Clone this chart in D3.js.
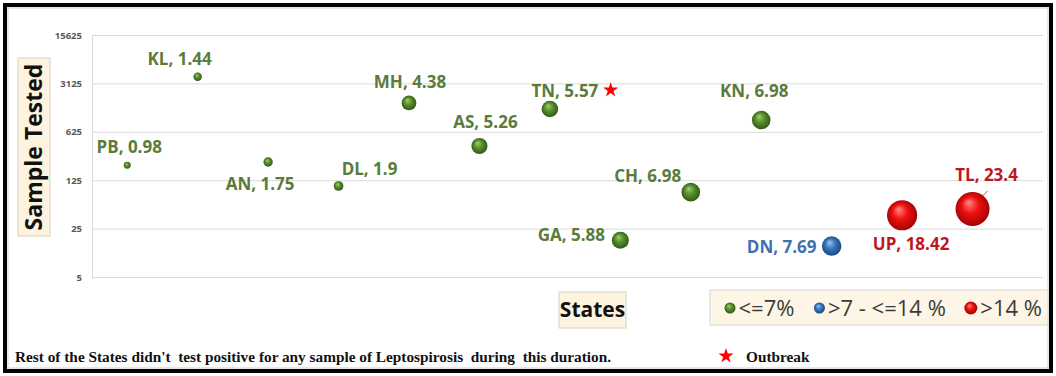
<!DOCTYPE html>
<html>
<head>
<meta charset="utf-8">
<script src="https://cdn.jsdelivr.net/npm/d3@7"></script>
<style>
  html, body { margin: 0; padding: 0; background: #fff; }
  svg { display: block; }
</style>
</head>
<body>
<div class="vis-bubble"></div>
<script>
// data
const states = ['PB','KL','AN','DL','MH','AS','TN','GA','CH','KN','DN','UP','TL'];
const samplesTested = [205, 3900, 229, 103, 1630, 390, 1334, 17, 84, 926, 14, 39, 48];
const positivity = [0.98, 1.44, 1.75, 1.9, 4.38, 5.26, 5.57, 5.88, 6.98, 6.98, 7.69, 18.42, 23.4];
const outbreakStates = ['TN'];
const yTicks = [5, 25, 125, 625, 3125, 15625];
const legendLabels = ['<=7%', '>7 - <=14 %', '>14 %'];
const footnote = "Rest of the States didn't  test positive for any sample of Leptospirosis  during  this duration.";

// label offsets (px) relative to the bubble centre, the way they were dragged in the original
const labelOffset = {
  PB: [2, -12], KL: [-18, -12], AN: [-8, 28], DL: [31, -11], MH: [1, -15],
  AS: [6, -18], TN: [15, -12], GA: [-49, 1], CH: [-43, -10], KN: [-7, -23],
  DN: [-50, 7], UP: [9, 35], TL: [14, -28]
};

const width = 1056, height = 376;
const svg = d3.select('.vis-bubble').append('svg')
  .attr('width', width).attr('height', height);

const defs = svg.append('defs');
const palette = [
  { id: 'g', light: '#9fcf72', mid: '#58902c', dark: '#2c5214', text: '#5b7b3a' },
  { id: 'b', light: '#9cc8f0', mid: '#3a78c0', dark: '#174079', text: '#3e70b2' },
  { id: 'r', light: '#ff8a80', mid: '#ee1111', dark: '#9c0000', text: '#c0161c' }
];
palette.forEach(p => {
  const gr = defs.append('radialGradient').attr('id', 'ball-' + p.id)
    .attr('cx', '50%').attr('cy', '50%').attr('r', '55%')
    .attr('fx', '38%').attr('fy', '30%');
  gr.append('stop').attr('offset', '0%').attr('stop-color', p.light);
  gr.append('stop').attr('offset', '45%').attr('stop-color', p.mid);
  gr.append('stop').attr('offset', '100%').attr('stop-color', p.dark);
});
const colorBin = d3.scaleThreshold().domain([7, 14]).range(palette);

// scales
const x = d3.scaleLinear().domain([0.5, 14]).range([92, 1043]);
const y = d3.scaleLog().base(5).domain([5, 15625]).range([277, 35]);
const r = d3.scaleSqrt().domain([0, 23.4]).range([0, 17]);

// outer frame
svg.append('rect').attr('x', 5).attr('y', 5).attr('width', 1046).attr('height', 366)
  .attr('fill', '#fff').attr('stroke', '#000').attr('stroke-width', 4);
svg.append('rect').attr('x', 8).attr('y', 8).attr('width', 1040).attr('height', 360)
  .attr('fill', 'none').attr('stroke', '#d0d0d0').attr('stroke-width', 1);

// gridlines + y axis
const yAxis = d3.axisLeft(y).tickValues(yTicks).tickFormat(d3.format('d'))
  .tickSize(-(1043 - 92)).tickPadding(10);
const gy = svg.append('g').attr('transform', 'translate(92,0)').call(yAxis);
gy.select('.domain').attr('stroke', '#d9d9d9').attr('d', 'M0.5,35V277');
gy.selectAll('.tick line').attr('stroke', '#dadada');
gy.selectAll('.tick text').attr('fill', '#595959')
  .style('font-family', '"Open Sans", sans-serif').style('font-weight', 700).style('font-size', '9.5px');

// y title box
svg.append('rect').attr('x', 18).attr('y', 58).attr('width', 32).attr('height', 178)
  .attr('fill', '#fdf3df').attr('stroke', '#d8d2c2');
svg.append('text').attr('transform', 'translate(42,147) rotate(-90)')
  .attr('text-anchor', 'middle')
  .style('font-family', '"Open Sans", sans-serif').style('font-weight', 700).style('font-size', '23px')
  .attr('fill', '#111').text('Sample Tested');

// x title box
svg.append('rect').attr('x', 559).attr('y', 292).attr('width', 67).attr('height', 36)
  .attr('fill', '#fdf3df').attr('stroke', '#d8d2c2');
svg.append('text').attr('x', 592.5).attr('y', 317).attr('text-anchor', 'middle')
  .style('font-family', '"Open Sans", sans-serif').style('font-weight', 700).style('font-size', '21px')
  .attr('fill', '#111').text('States');

// bubbles
const pts = states.map((s, i) => ({ s, i: i + 1, n: samplesTested[i], p: positivity[i] }));
const g = svg.append('g');
g.selectAll('circle').data(pts).enter().append('circle')
  .attr('cx', d => x(d.i)).attr('cy', d => y(d.n)).attr('r', d => r(d.p))
  .attr('fill', d => 'url(#ball-' + colorBin(d.p).id + ')');

// leader line for TL
const tl = pts.find(d => d.s === 'TL');
svg.append('line')
  .attr('x1', x(tl.i) + 10).attr('y1', y(tl.n) - 13)
  .attr('x2', x(tl.i) + 15).attr('y2', y(tl.n) - 18)
  .attr('stroke', '#e04040').attr('stroke-width', 1);

g.selectAll('text.lab').data(pts).enter().append('text').attr('class', 'lab')
  .attr('x', d => x(d.i) + labelOffset[d.s][0])
  .attr('y', d => y(d.n) + labelOffset[d.s][1])
  .attr('text-anchor', 'middle')
  .style('font-family', '"Open Sans", sans-serif').style('font-weight', 700).style('font-size', '17px')
  .attr('fill', d => colorBin(d.p).text)
  .text(d => d.s + ', ' + d.p);

// outbreak star
const star = d3.symbol().type(d3.symbolStar).size(70);
pts.filter(d => outbreakStates.includes(d.s)).forEach(d => {
  const t = g.selectAll('text.lab').filter(e => e === d).node();
  const bb = t.getBBox();
  svg.append('path').attr('d', star())
    .attr('transform', `translate(${bb.x + bb.width + 12},${y(d.n) - 19})`)
    .attr('fill', '#ff0000');
});

// legend
svg.append('rect').attr('x', 710).attr('y', 290).attr('width', 338).attr('height', 35)
  .attr('fill', '#fdf6e6').attr('stroke', '#d6d6d6');
let lx = 730;
legendLabels.forEach((lab, k) => {
  const rr = k === 2 ? 6.5 : 5.5;
  svg.append('circle').attr('cx', lx).attr('cy', 308).attr('r', rr)
    .attr('fill', 'url(#ball-' + palette[k].id + ')');
  const t = svg.append('text').attr('x', lx + rr + 3).attr('y', 316)
    .style('font-family', '"Open Sans", sans-serif').style('font-size', '22px')
    .attr('fill', '#3a3a3a').text(lab);
  lx += rr + 3 + t.node().getComputedTextLength() + 25;
});

// footnote + outbreak key
svg.append('text').attr('x', 15).attr('y', 362)
  .attr('xml:space', 'preserve').style('white-space', 'pre')
  .style('font-family', '"Liberation Serif", "Times New Roman", serif').style('font-weight', 700).style('font-size', '15.3px')
  .attr('fill', '#111').text(footnote);
svg.append('path').attr('d', star())
  .attr('transform', 'translate(726,356)').attr('fill', '#ff0000');
svg.append('text').attr('x', 746).attr('y', 362)
  .style('font-family', '"Liberation Serif", "Times New Roman", serif').style('font-weight', 700).style('font-size', '15.3px')
  .attr('fill', '#111').text('Outbreak');
</script>
</body>
</html>
